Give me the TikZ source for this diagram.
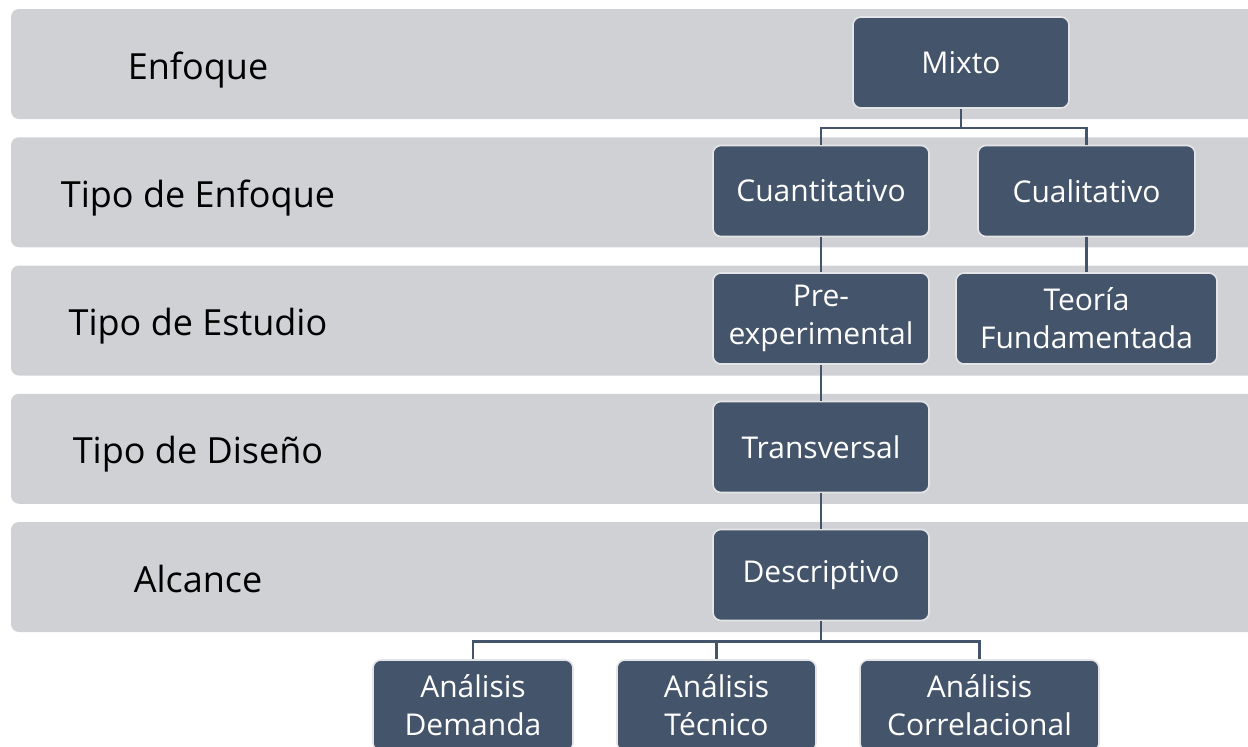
\documentclass[tikz,border=0pt]{standalone}
\usepackage{fontspec}
\setmainfont{Open Sans}
\usepackage{tikz}
\definecolor{boxfill}{HTML}{44546A}
\definecolor{boxline}{HTML}{E4E5E8}
\definecolor{bandfill}{HTML}{D0D1D5}
\tikzset{
  band/.style={fill=bandfill,rounded corners=4pt},
  bandlbl/.style={font=\fontsize{18}{22}\selectfont,text=black,anchor=base},
  levelbox/.style={rectangle,rounded corners=4pt,fill=boxfill,draw=boxline,line width=0.8pt,
    text=white,font=\fontsize{15}{19}\selectfont,align=center,minimum height=45.5pt,inner sep=2pt},
  conn/.style={draw=boxfill,line width=1.3pt}
}
\begin{document}
\begin{tikzpicture}[x=0.5pt,y=-0.5pt]
\useasboundingbox (0,0) rectangle (1248,746);
\clip (0,0) rectangle (1248,746);
\foreach \lbl [count=\i from 0] in {Enfoque,Tipo de Enfoque,Tipo de Estudio,Tipo de Diseño,Alcance}{
  \fill[band] (11,{9+128.25*\i}) rectangle (1270,{119+128.25*\i});
  \node[bandlbl] (lbl\i) at (198,{79+128.25*\i}) {\lbl};
}
\node[levelbox,minimum width=108pt] (mixto) at (961,62.5) {Mixto};
\node[levelbox,minimum width=108pt] (cuanti) at (821,191) {Cuantitativo};
\node[levelbox,minimum width=108.5pt] (cuali) at (1086.5,191) {Cualitativo};
\node[levelbox,minimum width=108pt] (pre) at (821,318.5) {Pre-\\experimental};
\node[levelbox,minimum width=130.5pt] (teoria) at (1086.5,318.5) {Teoría\\Fundamentada};
\node[levelbox,minimum width=108pt] (transv) at (821,447) {Transversal};
\node[levelbox,minimum width=108pt] (descr) at (821,575) {Descriptivo};
\node[levelbox,minimum width=100pt] (demanda) at (473,705.5) {Análisis\\Demanda};
\node[levelbox,minimum width=99.5pt] (tecnico) at (716.5,705.5) {Análisis\\Técnico};
\node[levelbox,minimum width=119.5pt] (correl) at (979.5,705.5) {Análisis\\Correlacional};
\draw[conn] (mixto.south) -- ++(0,19) coordinate (bus1) -| (cuanti.north);
\draw[conn] (bus1) -| (cuali.north);
\draw[conn] (cuanti) -- (pre);
\draw[conn] (cuali) -- (teoria);
\draw[conn] (pre) -- (transv);
\draw[conn] (transv) -- (descr);
\draw[conn] (descr.south) -- ++(0,20) coordinate (bus2) -| (demanda.north);
\draw[conn] (bus2) -| (tecnico.north);
\draw[conn] (bus2) -| (correl.north);
\end{tikzpicture}
\end{document}
